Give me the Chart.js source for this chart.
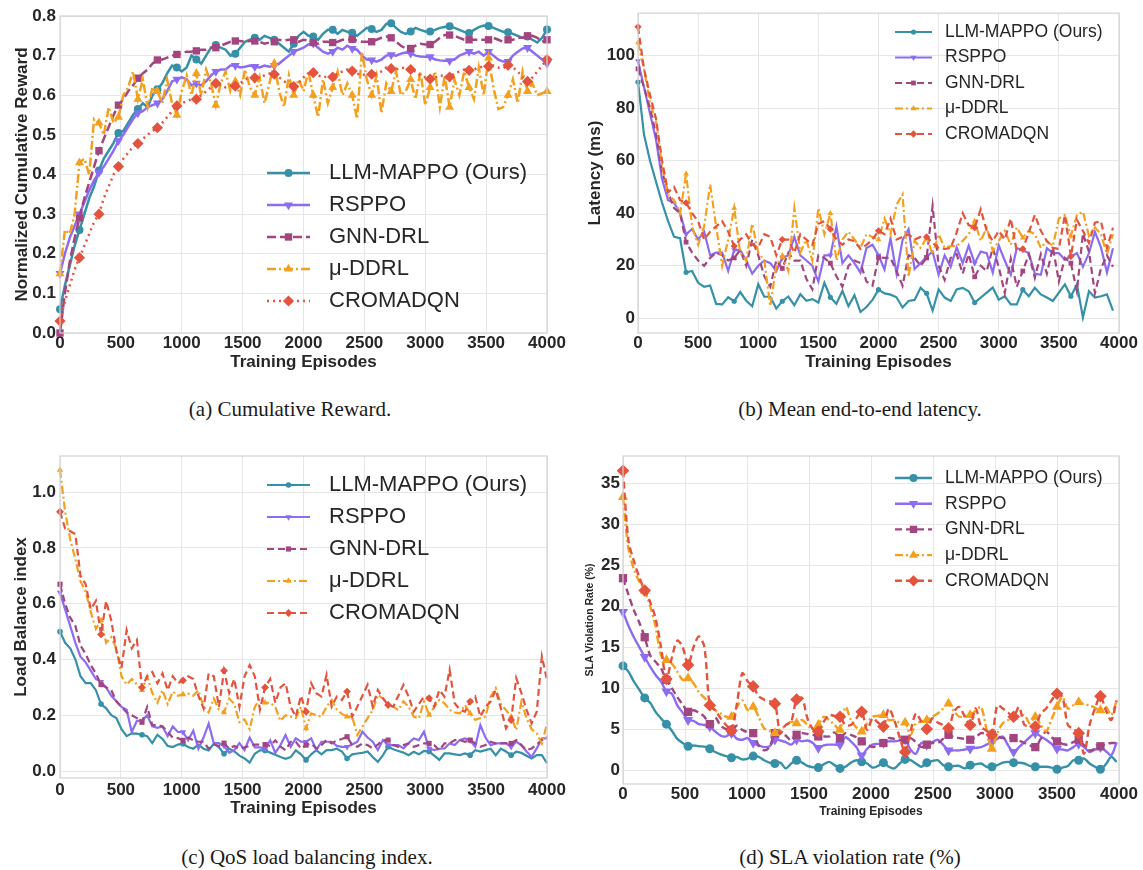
<!DOCTYPE html>
<html>
<head>
<meta charset="utf-8">
<title>Training curves</title>
<script src="https://cdn.jsdelivr.net/npm/chart.js@4.4.1/dist/chart.umd.min.js"></script>
<style>
  body { margin: 0; background: #fff; }
  #page { position: relative; width: 1143px; height: 870px; overflow: hidden; background: #fff; }
  canvas { position: absolute; }
  .caption {
    position: absolute;
    font-family: 'Liberation Serif', 'Times New Roman', serif;
    font-size: 21px;
    line-height: 24px;
    color: #1a1a1a;
    white-space: nowrap;
    transform: translateX(-50%);
  }
</style>
</head>
<body>
<div id="page">
  <canvas id="rewardChart" width="570" height="385" style="left:0;top:0"></canvas>
  <canvas id="latencyChart" width="573" height="385" style="left:570px;top:0"></canvas>
  <canvas id="loadChart" width="570" height="400" style="left:0;top:430px"></canvas>
  <canvas id="slaChart" width="573" height="400" style="left:570px;top:430px"></canvas>
  <div class="caption" style="left:290px;top:397px">(a) Cumulative Reward.</div>
  <div class="caption" style="left:860px;top:397px">(b) Mean end-to-end latency.</div>
  <div class="caption" style="left:307px;top:845px">(c) QoS load balancing index.</div>
  <div class="caption" style="left:850px;top:845px">(d) SLA violation rate (%)</div>
</div>
<script>
const methods = ['LLM-MAPPO (Ours)', 'RSPPO', 'GNN-DRL', 'μ-DDRL', 'CROMADQN'];
const colors = ['#3691a8', '#8b6cf3', '#a3457f', '#f59f1f', '#e4533d'];
const markers = ['circle', 'triangle', 'rect', 'triangle', 'rectRot'];
const markerRotation = [0, 180, 0, 0, 0];
const markerSize = { circle: 1, triangle: 1.3, rect: 1.3, rectRot: 1.4 };

const episodeTicks = [0, 500, 1000, 1500, 2000, 2500, 3000, 3500, 4000];

// (a) normalized cumulative reward, logged every 40 episodes
const rewardStep = 40;
const rewardLLM = [
  0.06, 0.12, 0.17, 0.22, 0.26, 0.30, 0.34, 0.37, 0.41, 0.44,
  0.46, 0.48, 0.505, 0.51, 0.53, 0.55, 0.565, 0.58, 0.57, 0.60,
  0.615, 0.63, 0.655, 0.675, 0.67, 0.66, 0.67, 0.70, 0.69, 0.68,
  0.70, 0.72, 0.727, 0.72, 0.715, 0.70, 0.705, 0.72, 0.735, 0.74,
  0.745, 0.74, 0.75, 0.745, 0.74, 0.73, 0.72, 0.71, 0.73, 0.75,
  0.76, 0.75, 0.748, 0.74, 0.755, 0.765, 0.765, 0.755, 0.765, 0.76,
  0.758, 0.75, 0.76, 0.77, 0.767, 0.76, 0.765, 0.78, 0.782, 0.77,
  0.76, 0.755, 0.761, 0.77, 0.765, 0.761, 0.761, 0.765, 0.77, 0.772,
  0.774, 0.77, 0.765, 0.76, 0.757, 0.765, 0.772, 0.776, 0.775, 0.77,
  0.765, 0.76, 0.759, 0.755, 0.75, 0.745, 0.748, 0.74, 0.733, 0.745,
  0.766
];
const rewardRSPPO = [
  0.15, 0.20, 0.24, 0.27, 0.30, 0.33, 0.36, 0.385, 0.405, 0.42,
  0.44, 0.46, 0.485, 0.50, 0.52, 0.54, 0.555, 0.56, 0.57, 0.575,
  0.58, 0.59, 0.61, 0.635, 0.64, 0.645, 0.64, 0.625, 0.63, 0.625,
  0.635, 0.65, 0.66, 0.665, 0.665, 0.675, 0.675, 0.67, 0.672, 0.675,
  0.672, 0.67, 0.675, 0.672, 0.675, 0.68, 0.69, 0.70, 0.71, 0.715,
  0.72, 0.728, 0.731, 0.72, 0.71, 0.705, 0.71, 0.72, 0.715, 0.725,
  0.718, 0.715, 0.70, 0.69, 0.689, 0.685, 0.69, 0.70, 0.702, 0.70,
  0.705, 0.708, 0.706, 0.70, 0.698, 0.697, 0.697, 0.69, 0.688, 0.687,
  0.687, 0.69, 0.70, 0.705, 0.71, 0.705, 0.71, 0.70, 0.71, 0.70,
  0.69, 0.685, 0.685, 0.70, 0.71, 0.718, 0.72, 0.71, 0.70, 0.69,
  0.68
];
const rewardGNN = [
  0.00, 0.10, 0.18, 0.24, 0.29, 0.34, 0.38, 0.42, 0.46, 0.49,
  0.52, 0.55, 0.575, 0.59, 0.61, 0.625, 0.643, 0.655, 0.665, 0.68,
  0.689, 0.69, 0.695, 0.70, 0.703, 0.705, 0.71, 0.71, 0.712, 0.715,
  0.715, 0.72, 0.72, 0.725, 0.73, 0.735, 0.737, 0.737, 0.735, 0.737,
  0.737, 0.735, 0.73, 0.733, 0.735, 0.74, 0.738, 0.74, 0.74, 0.735,
  0.74, 0.738, 0.733, 0.73, 0.735, 0.735, 0.733, 0.735, 0.74, 0.74,
  0.741, 0.738, 0.735, 0.735, 0.735, 0.74, 0.745, 0.748, 0.745, 0.735,
  0.725, 0.718, 0.718, 0.725, 0.73, 0.728, 0.728, 0.735, 0.745, 0.752,
  0.752, 0.75, 0.745, 0.74, 0.74, 0.74, 0.74, 0.74, 0.74, 0.745,
  0.74, 0.735, 0.74, 0.74, 0.745, 0.745, 0.75, 0.75, 0.745, 0.735,
  0.74
];
const rewardMuDDRL = [
  0.15, 0.26, 0.25, 0.30, 0.43, 0.44, 0.40, 0.54, 0.53, 0.50,
  0.57, 0.53, 0.545, 0.60, 0.62, 0.66, 0.59, 0.64, 0.57, 0.62,
  0.61, 0.58, 0.64, 0.58, 0.55, 0.61, 0.65, 0.60, 0.655, 0.60,
  0.665, 0.63, 0.575, 0.63, 0.66, 0.61, 0.635, 0.60, 0.665, 0.62,
  0.60, 0.645, 0.58, 0.63, 0.68, 0.61, 0.57, 0.65, 0.60, 0.64,
  0.61, 0.66, 0.60, 0.545, 0.64, 0.58, 0.62, 0.66, 0.60, 0.63,
  0.60, 0.54, 0.71, 0.64, 0.60, 0.65, 0.555, 0.63, 0.61, 0.66,
  0.60, 0.61, 0.64, 0.59, 0.66, 0.575, 0.62, 0.66, 0.57, 0.65,
  0.57, 0.64, 0.60, 0.66, 0.62, 0.59, 0.67, 0.60, 0.694, 0.62,
  0.565, 0.57, 0.60, 0.64, 0.58, 0.66, 0.61, 0.63, 0.60, 0.605,
  0.61
];
const rewardCROMADQN = [
  0.03, 0.08, 0.12, 0.16, 0.19, 0.22, 0.25, 0.28, 0.30, 0.34,
  0.37, 0.40, 0.42, 0.44, 0.455, 0.47, 0.478, 0.49, 0.50, 0.51,
  0.518, 0.53, 0.545, 0.56, 0.573, 0.58, 0.585, 0.59, 0.59, 0.60,
  0.61, 0.62, 0.63, 0.625, 0.62, 0.625, 0.623, 0.63, 0.64, 0.645,
  0.644, 0.645, 0.65, 0.655, 0.653, 0.645, 0.635, 0.63, 0.622, 0.63,
  0.645, 0.655, 0.657, 0.65, 0.645, 0.648, 0.646, 0.655, 0.66, 0.665,
  0.661, 0.655, 0.65, 0.655, 0.653, 0.655, 0.66, 0.67, 0.667, 0.665,
  0.67, 0.668, 0.665, 0.66, 0.65, 0.645, 0.641, 0.645, 0.65, 0.648,
  0.646, 0.655, 0.66, 0.665, 0.663, 0.665, 0.67, 0.672, 0.673, 0.675,
  0.67, 0.668, 0.676, 0.67, 0.66, 0.645, 0.635, 0.645, 0.66, 0.675,
  0.69
];
const rewardTicks = [0, 0.1, 0.2, 0.3, 0.4, 0.5, 0.6, 0.7, 0.8];

// (b) mean end-to-end latency (ms), logged every 50 episodes
const latencyStep = 50;
const latencyLLM = [
  90, 70, 60, 52, 44, 37, 31, 30.5, 17.5, 18,
  13.5, 12, 12.5, 5.5, 5.3, 8, 6.5, 10, 6.7, 4.6,
  13, 8.2, 8.2, 3.7, 6.5, 8.3, 5, 9.2, 6.7, 7.3,
  6, 13.5, 8, 5.5, 10.5, 4.6, 8.8, 2.4, 4.3, 7,
  10.9, 9.5, 9, 8, 4.1, 6.6, 7, 11.6, 9.5, 2.9,
  11, 7.9, 6.6, 11, 11.6, 10.3, 6, 7.9, 9.8, 11.7,
  7.1, 8.4, 5.3, 5.3, 10.9, 8.4, 11.6, 9.1, 7.9, 6.6,
  9.8, 12.9, 8.4, 12.9, 0.3, 10.3, 7.9, 8.4, 9.1, 2.9
];
const latencyRSPPO = [
  98, 88, 78, 68, 53, 45, 44, 40, 32, 34,
  30, 33, 24, 25, 25, 18, 26, 26, 22, 17,
  20, 22, 21, 18, 23, 24, 31, 24, 22, 20,
  14, 24, 24, 35, 21, 24, 21, 17.4, 26.8, 28,
  24, 18.6, 30.5, 17, 29.8, 34, 18.8, 21, 23.5, 25.4,
  16.6, 24, 19.6, 27, 21, 27.7, 21, 25.4, 24.8, 17.4,
  27.7, 22, 16.6, 26.7, 26, 24.8, 17, 16.6, 26.7, 24.8,
  24.8, 22.3, 23.5, 24.8, 19.6, 24.8, 32.9, 27, 17.4, 26.7
];
const latencyGNN = [
  95, 88, 80, 70, 56, 48, 42, 40, 29, 25,
  22, 20, 23, 25, 24, 22, 23, 26, 20, 30,
  24, 16, 12, 22, 19, 25, 22, 22, 15, 11,
  24, 23, 21, 16, 12, 20, 22, 21, 14, 12.4,
  23.2, 23, 23, 18, 12.4, 24, 23, 20, 23, 42.8,
  20, 14.6, 23, 24.4, 17, 24.4, 15.8, 20, 18, 26.7,
  19.6, 9.6, 22.7, 12, 18, 24.4, 15.4, 24.4, 17, 27,
  14, 23, 21, 10.3, 32.3, 25.4, 9.6, 19, 24, 19.6
];
const latencyMuDDRL = [
  105, 95, 82, 75, 58, 47, 45, 40, 55, 35,
  28, 35, 51, 35, 20, 30, 42, 25, 22, 36,
  25, 22, 4.6, 20, 24, 18, 42, 25, 30, 22,
  42, 32, 40, 22, 30, 33, 30, 26.8, 32, 31,
  30, 38, 32, 43.2, 47.2, 15.8, 29.6, 26.8, 30.7, 24.4,
  32, 26.8, 27.5, 27.5, 29.5, 32, 37, 29.5, 34.6, 25.7,
  29.5, 33.3, 28, 34.6, 30.7, 33.3, 32, 26.8, 29.5, 27.5,
  38, 39.3, 31.4, 39.3, 40.6, 31.4, 34.6, 32, 24.4, 32
];
const latencyCROMADQN = [
  111, 95, 85, 76, 60, 48, 50, 45, 44, 40,
  37, 30, 33, 35, 37, 33, 27.5, 30, 32, 28,
  27, 32, 31, 24, 30, 30, 25, 32, 30, 28,
  36, 37, 34, 30, 28, 30, 29.4, 26.4, 28, 30,
  33.3, 32, 38, 30, 31, 32, 30, 31, 31, 28.7,
  26.8, 26.4, 26.8, 32.7, 40, 35.5, 34.5, 41.5, 33.3, 29.4,
  33.3, 30, 38, 25.5, 26.4, 32.7, 39.4, 33.3, 29.4, 26.8,
  26.4, 39.4, 23.6, 37.5, 33.3, 28.7, 36.4, 37, 26.8, 34.5
];
const latencyTicks = [0, 20, 40, 60, 80, 100];

// (c) load balance index, 96 evaluations over 4000 episodes
const loadStep = 4000 / 95;
const loadLLM = [
  0.50, 0.46, 0.44, 0.40, 0.34, 0.315, 0.315, 0.29, 0.24, 0.225,
  0.20, 0.19, 0.15, 0.125, 0.135, 0.134, 0.13, 0.125, 0.10, 0.13,
  0.115, 0.09, 0.086, 0.095, 0.098, 0.086, 0.08, 0.095, 0.08, 0.074,
  0.098, 0.085, 0.062, 0.08, 0.07, 0.055, 0.045, 0.03, 0.062, 0.074,
  0.074, 0.066, 0.058, 0.05, 0.044, 0.05, 0.074, 0.06, 0.04, 0.06,
  0.075, 0.06, 0.075, 0.075, 0.08, 0.07, 0.045, 0.06, 0.063, 0.065,
  0.07, 0.05, 0.033, 0.057, 0.087, 0.078, 0.072, 0.066, 0.057, 0.069,
  0.06, 0.072, 0.07, 0.055, 0.04, 0.063, 0.063, 0.06, 0.057, 0.063,
  0.057, 0.075, 0.07, 0.075, 0.08, 0.057, 0.08, 0.07, 0.057, 0.069,
  0.065, 0.055, 0.045, 0.057, 0.057, 0.028
];
const loadRSPPO = [
  0.64, 0.58, 0.52, 0.46, 0.41, 0.39, 0.36, 0.33, 0.32, 0.30,
  0.27, 0.25, 0.23, 0.22, 0.14, 0.18, 0.18, 0.20, 0.16, 0.155,
  0.16, 0.125, 0.16, 0.14, 0.14, 0.11, 0.145, 0.08, 0.12, 0.17,
  0.10, 0.10, 0.09, 0.065, 0.075, 0.10, 0.075, 0.12, 0.085, 0.085,
  0.08, 0.11, 0.065, 0.093, 0.129, 0.087, 0.117, 0.105, 0.105, 0.117,
  0.075, 0.105, 0.105, 0.105, 0.09, 0.087, 0.087, 0.095, 0.105, 0.141,
  0.12, 0.105, 0.075, 0.111, 0.093, 0.093, 0.093, 0.081, 0.10, 0.117,
  0.111, 0.141, 0.081, 0.075, 0.08, 0.081, 0.099, 0.093, 0.111, 0.117,
  0.11, 0.087, 0.165, 0.12, 0.093, 0.099, 0.099, 0.099, 0.087, 0.105,
  0.093, 0.07, 0.051, 0.081, 0.117, 0.117
];
const loadGNN = [
  0.67, 0.60, 0.55, 0.52, 0.45, 0.42, 0.38, 0.35, 0.31, 0.30,
  0.29, 0.25, 0.23, 0.21, 0.20, 0.19, 0.175, 0.23, 0.165, 0.165,
  0.16, 0.14, 0.12, 0.118, 0.11, 0.12, 0.11, 0.105, 0.105, 0.08,
  0.095, 0.09, 0.10, 0.08, 0.09, 0.08, 0.085, 0.09, 0.095, 0.095,
  0.095, 0.09, 0.11, 0.087, 0.075, 0.105, 0.105, 0.081, 0.093, 0.099,
  0.081, 0.093, 0.111, 0.099, 0.11, 0.115, 0.123, 0.093, 0.087, 0.099,
  0.093, 0.081, 0.095, 0.111, 0.111, 0.093, 0.087, 0.093, 0.099, 0.087,
  0.093, 0.099, 0.099, 0.093, 0.075, 0.099, 0.099, 0.111, 0.111, 0.105,
  0.111, 0.099, 0.087, 0.093, 0.105, 0.099, 0.099, 0.10, 0.099, 0.111,
  0.093, 0.075, 0.081, 0.095, 0.111, 0.123
];
const loadMuDDRL = [
  1.08, 0.93, 0.83, 0.76, 0.68, 0.645, 0.57, 0.51, 0.54, 0.46,
  0.48, 0.44, 0.34, 0.31, 0.33, 0.31, 0.29, 0.34, 0.28, 0.245,
  0.29, 0.24, 0.285, 0.27, 0.275, 0.278, 0.27, 0.29, 0.23, 0.21,
  0.26, 0.22, 0.21, 0.26, 0.24, 0.175, 0.185, 0.15, 0.23, 0.26,
  0.245, 0.245, 0.23, 0.18, 0.20, 0.195, 0.19, 0.23, 0.153, 0.207,
  0.20, 0.195, 0.231, 0.255, 0.22, 0.205, 0.195, 0.195, 0.129, 0.16,
  0.19, 0.219, 0.273, 0.26, 0.24, 0.231, 0.219, 0.25, 0.23, 0.195,
  0.189, 0.249, 0.201, 0.23, 0.255, 0.243, 0.219, 0.21, 0.207, 0.237,
  0.207, 0.183, 0.19, 0.195, 0.267, 0.297, 0.24, 0.219, 0.195, 0.147,
  0.249, 0.189, 0.15, 0.135, 0.099, 0.17
];
const loadCROMADQN = [
  0.93, 0.87, 0.86, 0.85, 0.70, 0.67, 0.58, 0.61, 0.49, 0.61,
  0.54, 0.43, 0.37, 0.505, 0.44, 0.47, 0.30, 0.34, 0.355, 0.315,
  0.35, 0.29, 0.34, 0.315, 0.325, 0.34, 0.33, 0.27, 0.225, 0.35,
  0.34, 0.23, 0.36, 0.28, 0.33, 0.23, 0.34, 0.38, 0.34, 0.22,
  0.30, 0.33, 0.245, 0.30, 0.315, 0.23, 0.195, 0.27, 0.213, 0.315,
  0.279, 0.267, 0.345, 0.231, 0.267, 0.255, 0.285, 0.195, 0.231, 0.27,
  0.309, 0.231, 0.291, 0.261, 0.237, 0.231, 0.27, 0.309, 0.267, 0.213,
  0.24, 0.267, 0.261, 0.231, 0.291, 0.267, 0.363, 0.243, 0.22, 0.213,
  0.249, 0.267, 0.195, 0.23, 0.249, 0.291, 0.225, 0.153, 0.183, 0.333,
  0.28, 0.22, 0.171, 0.213, 0.411, 0.327
];
const loadTicks = [0, 0.2, 0.4, 0.6, 0.8, 1.0];

// (d) SLA violation rate (%), logged every 43.75 episodes
const slaStep = 43.75;
const slaLLM = [
  12.7, 12.0, 10.8, 9.8, 8.8, 8.2, 7.1, 6.3, 5.6, 4.8,
  3.8, 3.3, 2.9, 3.0, 2.9, 2.85, 2.6, 2.2, 1.9, 1.7,
  1.5, 1.6, 1.3, 1.4, 1.7, 1.6, 1.2, 0.9, 0.8, 0.9,
  0.2, 0.8, 1.2, 0.9, 0.5, 0.35, 0.3, 0.7, 1.0, 0.6,
  0.2, 0.4, 0.9, 1.2, 1.0, 0.8, 0.3, 0.5, 0.9, 0.4,
  0.2, 0.8, 1.3, 1.2, 0.8, 0.4, 0.9, 1.1, 1.2, 0.6,
  0.4, 0.5, 0.5, 0.2, 0.6, 0.7, 0.8, 0.4, 0.4, 0.6,
  0.9, 1.0, 0.9, 0.9, 0.8, 0.5, 0.4, 0.4, 0.4, 0.3,
  0.1, 0.3, 0.5, 1.2, 1.2, 1.4, 0.8, 0.4, 0.1, 0.7,
  1.6, 1.0
];
const slaRSPPO = [
  19.3, 17.6, 16.2, 15.0, 13.8, 12.6, 11.6, 10.8, 9.6, 9.3,
  7.9, 7.0, 6.1, 6.0, 5.6, 5.5, 5.3, 4.7, 4.2, 4.1,
  4.5, 3.8, 3.7, 3.9, 3.3, 3.0, 2.8, 2.9, 3.7, 3.6,
  3.4, 3.1, 3.7, 3.5, 3.6, 3.3, 2.7, 3.0, 3.1, 3.1,
  3.1, 4.0, 3.5, 2.8, 1.8, 2.6, 3.1, 3.2, 3.3, 3.5,
  3.5, 3.6, 3.7, 2.5, 2.0, 3.3, 3.1, 3.4, 3.7, 3.1,
  2.4, 2.4, 2.4, 2.5, 2.6, 2.7, 2.8, 3.1, 3.4, 3.8,
  4.1, 3.0, 2.2, 2.8, 3.4, 4.0, 4.5, 4.1, 3.7, 3.2,
  2.6, 2.5, 2.4, 2.8, 3.2, 2.8, 2.2, 2.5, 2.8, 2.3,
  1.8, 3.4
];
const slaGNN = [
  23.4, 21.4, 19.5, 18.0, 16.2, 14.0, 13.2, 12.4, 11.0, 10.0,
  8.9, 8.0, 7.1, 7.3, 7.0, 6.5, 5.6, 6.4, 5.4, 5.0,
  4.9, 5.4, 4.9, 4.6, 4.5, 3.0, 2.4, 2.8, 4.5, 4.4,
  4.2, 3.6, 4.3, 4.5, 4.4, 4.3, 4.1, 4.1, 4.1, 4.6,
  3.9, 4.5, 4.3, 4.0, 3.5, 3.2, 2.8, 3.0, 3.3, 3.9,
  3.8, 3.7, 3.7, 3.9, 3.4, 2.8, 3.1, 3.3, 3.3, 3.8,
  4.3, 4.0, 3.9, 3.8, 3.7, 4.0, 4.5, 4.4, 4.3, 4.1,
  3.9, 3.9, 3.9, 3.6, 3.3, 3.0, 2.8, 3.8, 4.7, 4.0,
  3.5, 3.2, 3.1, 3.4, 3.7, 3.0, 2.4, 2.6, 2.9, 3.2,
  3.3, 3.3
];
const slaMuDDRL = [
  33.3, 27.0, 24.5, 23.0, 21.9, 20.0, 17.5, 14.0, 13.4, 13.0,
  12.0, 11.0, 11.2, 10.6, 9.5, 8.8, 8.1, 7.3, 6.9, 6.5,
  6.5, 7.7, 8.5, 7.3, 7.7, 6.5, 5.1, 4.8, 4.5, 5.0,
  5.4, 5.9, 5.7, 6.1, 5.5, 4.9, 5.5, 6.5, 6.1, 5.5,
  4.9, 7.7, 6.1, 5.2, 4.7, 5.7, 6.5, 6.6, 6.7, 6.1,
  6.1, 5.8, 5.8, 4.3, 5.7, 5.9, 6.1, 6.5, 6.9, 7.5,
  8.1, 7.2, 6.5, 6.6, 6.7, 7.2, 7.7, 5.0, 2.6, 4.5,
  5.7, 6.1, 6.5, 6.6, 6.7, 5.7, 6.5, 5.5, 4.7, 6.2,
  7.7, 8.9, 7.5, 7.9, 8.3, 8.0, 7.9, 7.6, 7.3, 7.7,
  6.7, 8.5
];
const slaCROMADQN = [
  36.5, 28.0, 25.5, 23.5, 21.9, 20.5, 18.5, 15.0, 11.1, 13.7,
  15.8, 15.0, 12.8, 15.0, 16.3, 15.0, 7.9, 7.3, 6.3, 5.5,
  4.8, 8.1, 11.8, 10.8, 10.2, 9.0, 8.6, 8.4, 8.1, 4.5,
  5.5, 5.9, 8.6, 8.8, 6.3, 5.0, 4.7, 5.9, 6.7, 6.6,
  6.5, 5.5, 5.5, 6.3, 7.1, 4.9, 6.3, 5.8, 5.3, 7.5,
  6.1, 4.0, 2.2, 4.7, 6.9, 5.9, 5.0, 6.3, 5.8, 5.5,
  5.1, 7.1, 7.7, 6.5, 5.5, 7.5, 5.3, 4.8, 4.3, 7.9,
  7.5, 7.0, 6.5, 7.7, 5.5, 5.4, 5.3, 6.9, 7.5, 8.5,
  9.3, 8.9, 5.5, 5.0, 4.5, 2.0, 5.5, 7.5, 9.0, 7.3,
  6.1, 8.5
];
const slaTicks = [0, 5, 10, 15, 20, 25, 30, 35];

const textColor = '#262626';
const fontFamily = "'Liberation Sans', Arial, sans-serif";

function episodes(count, step) {
  return Array.from({ length: count }, (_, i) => i * step);
}

function drawMarker(ctx, style, rotation, r, x, y) {
  ctx.beginPath();
  if (style === 'circle') {
    ctx.arc(x, y, r, 0, Math.PI * 2);
  } else if (style === 'rect') {
    const s = r * Math.SQRT1_2;
    ctx.rect(x - s, y - s, 2 * s, 2 * s);
  } else if (style === 'rectRot') {
    ctx.moveTo(x, y - r);
    ctx.lineTo(x + r, y);
    ctx.lineTo(x, y + r);
    ctx.lineTo(x - r, y);
  } else {
    let a = (rotation || 0) * Math.PI / 180;
    for (let k = 0; k < 3; k++) {
      const px = x + Math.sin(a) * r;
      const py = y - Math.cos(a) * r;
      if (k) ctx.lineTo(px, py); else ctx.moveTo(px, py);
      a += 2 * Math.PI / 3;
    }
  }
  ctx.closePath();
  ctx.fill();
}

// light frame around the plot area plus a borderless legend at a fixed spot
const frameLegend = {
  id: 'frameLegend',
  afterDraw(chart, args, opts) {
    const { ctx, chartArea: a } = chart;
    ctx.save();
    ctx.strokeStyle = '#d3d3d3';
    ctx.lineWidth = 1.2;
    ctx.strokeRect(a.left, a.top, a.right - a.left, a.bottom - a.top);

    ctx.font = opts.font;
    ctx.textBaseline = 'middle';
    chart.data.datasets.forEach((ds, i) => {
      const y = opts.y + i * opts.dy;
      ctx.strokeStyle = ds.borderColor;
      ctx.lineWidth = ds.borderWidth;
      ctx.setLineDash(ds.borderDash || []);
      ctx.beginPath();
      ctx.moveTo(opts.x0, y);
      ctx.lineTo(opts.x1, y);
      ctx.stroke();
      ctx.setLineDash([]);
      ctx.fillStyle = ds.borderColor;
      drawMarker(ctx, ds.pointStyle, ds.pointRotation, opts.r * markerSize[ds.pointStyle], (opts.x0 + opts.x1) / 2, y);
      ctx.fillStyle = textColor;
      ctx.fillText(ds.label, opts.tx, y);
    });
    ctx.restore();
  }
};

function buildDatasets(series, o) {
  return series.map((values, i) => ({
    label: methods[i],
    data: values,
    order: series.length - i,
    borderColor: colors[i],
    backgroundColor: colors[i],
    borderWidth: o.lineWidth,
    borderDash: o.dashes[i],
    pointStyle: markers[i],
    pointRotation: markerRotation[i],
    pointRadius: ctx => (ctx.dataIndex % o.every === 0 ? o.r * markerSize[markers[i]] : 0),
    pointHoverRadius: 0,
    pointBorderWidth: 0,
    pointBackgroundColor: colors[i],
    tension: o.tension || 0,
    clip: false
  }));
}

function makeChart(id, o) {
  return new Chart(document.getElementById(id), {
    type: 'line',
    data: { labels: o.episodes, datasets: buildDatasets(o.series, o) },
    options: {
      responsive: false,
      animation: false,
      events: [],
      layout: { padding: o.pad },
      plugins: {
        legend: { display: false },
        tooltip: { enabled: false },
        frameLegend: o.legend
      },
      scales: {
        x: {
          type: 'linear',
          min: 0,
          max: 4000,
          afterBuildTicks: s => { s.ticks = episodeTicks.map(v => ({ value: v })); },
          afterFit: s => { s.height = o.xHeight; },
          grid: { color: '#e6e6e6', lineWidth: 1, drawTicks: false },
          border: { display: false },
          ticks: {
            color: textColor,
            font: { family: fontFamily, size: 17, weight: 'bold' },
            padding: o.xTickPad,
            maxRotation: 0,
            autoSkip: false,
            callback: v => String(v)
          },
          title: {
            display: true,
            text: 'Training Episodes',
            color: textColor,
            font: { family: fontFamily, size: o.xTitleSize, weight: 'bold' },
            padding: { top: 0, bottom: o.xTitlePad }
          }
        },
        y: {
          min: o.yMin,
          max: o.yMax,
          afterBuildTicks: s => { s.ticks = o.yTicks.map(v => ({ value: v })); },
          afterFit: s => { s.width = o.yWidth; },
          grid: { color: '#e6e6e6', lineWidth: 1, drawTicks: false },
          border: { display: false },
          ticks: {
            color: textColor,
            font: { family: fontFamily, size: 17, weight: 'bold' },
            padding: o.yTickPad,
            autoSkip: false,
            callback: o.yFormat
          },
          title: {
            display: true,
            text: o.yTitle,
            color: textColor,
            font: { family: fontFamily, size: o.yTitleSize, weight: 'bold' },
            padding: { top: o.yTitlePad, bottom: 0 }
          }
        }
      }
    },
    plugins: [frameLegend]
  });
}

makeChart('rewardChart', {
  series: [rewardLLM, rewardRSPPO, rewardGNN, rewardMuDDRL, rewardCROMADQN],
  episodes: episodes(rewardLLM.length, rewardStep),
  dashes: [[], [], [9, 4], [9, 3, 2, 3], [2, 4]],
  lineWidth: 2.5, r: 4, every: 4,
  pad: { left: 0, right: 23, top: 16, bottom: 0 },
  yWidth: 60, xHeight: 52, xTickPad: 0, yTickPad: 4,
  yMin: 0, yMax: 0.8, yTicks: rewardTicks, yFormat: v => v.toFixed(1),
  yTitle: 'Normalized Cumulative Reward', yTitleSize: 17, yTitlePad: 12,
  xTitleSize: 17, xTitlePad: 12.8,
  legend: { x0: 267, x1: 310, tx: 329, y: 173, dy: 32, r: 4, font: "22px 'Liberation Sans', Arial, sans-serif" }
});

makeChart('latencyChart', {
  series: [latencyLLM, latencyRSPPO, latencyGNN, latencyMuDDRL, latencyCROMADQN],
  episodes: episodes(latencyLLM.length, latencyStep),
  dashes: [[], [], [7, 4], [8, 3, 2, 3], [7, 4]],
  lineWidth: 2.2, r: 2.6, every: 8,
  pad: { left: 0, right: 24, top: 10, bottom: 0 },
  yWidth: 68, xHeight: 52, xTickPad: 0, yTickPad: 3,
  yMin: -5.6, yMax: 116.2, yTicks: latencyTicks, yFormat: v => String(v),
  yTitle: 'Latency (ms)', yTitleSize: 17, yTitlePad: 15,
  xTitleSize: 17, xTitlePad: 12.8,
  legend: { x0: 325, x1: 362, tx: 375, y: 32, dy: 25.5, r: 2.6, font: "17.5px 'Liberation Sans', Arial, sans-serif" }
});

makeChart('loadChart', {
  series: [loadLLM, loadRSPPO, loadGNN, loadMuDDRL, loadCROMADQN],
  episodes: episodes(loadLLM.length, loadStep),
  dashes: [[], [], [7, 4], [8, 3, 2, 3], [7, 4]],
  lineWidth: 2.2, r: 2.8, every: 8,
  pad: { left: 0, right: 23, top: 26, bottom: 0 },
  yWidth: 60, xHeight: 52, xTickPad: 2, yTickPad: 4,
  yMin: -0.025, yMax: 1.13, yTicks: loadTicks, yFormat: v => v.toFixed(1),
  yTitle: 'Load Balance index', yTitleSize: 17, yTitlePad: 11,
  xTitleSize: 17, xTitlePad: 11.8,
  legend: { x0: 267, x1: 310, tx: 329, y: 55, dy: 32, r: 2.8, font: "22px 'Liberation Sans', Arial, sans-serif" }
});

makeChart('slaChart', {
  series: [slaLLM, slaRSPPO, slaGNN, slaMuDDRL, slaCROMADQN],
  episodes: episodes(slaLLM.length, slaStep),
  dashes: [[], [], [7, 4], [8, 3, 2, 3], [7, 4]],
  lineWidth: 2.4, r: 4.5, every: 4, tension: 0.3,
  pad: { left: 0, right: 24, top: 26, bottom: 0 },
  yWidth: 53, xHeight: 46, xTickPad: 0, yTickPad: 3,
  yMin: -1.7, yMax: 38.3, yTicks: slaTicks, yFormat: v => String(v),
  yTitle: 'SLA Violation Rate (%)', yTitleSize: 10.5, yTitlePad: 13.7,
  xTitleSize: 12, xTitlePad: 10.8,
  legend: { x0: 325, x1: 362, tx: 375, y: 48, dy: 25.7, r: 4, font: "17.5px 'Liberation Sans', Arial, sans-serif" }
});
</script>
</body>
</html>
